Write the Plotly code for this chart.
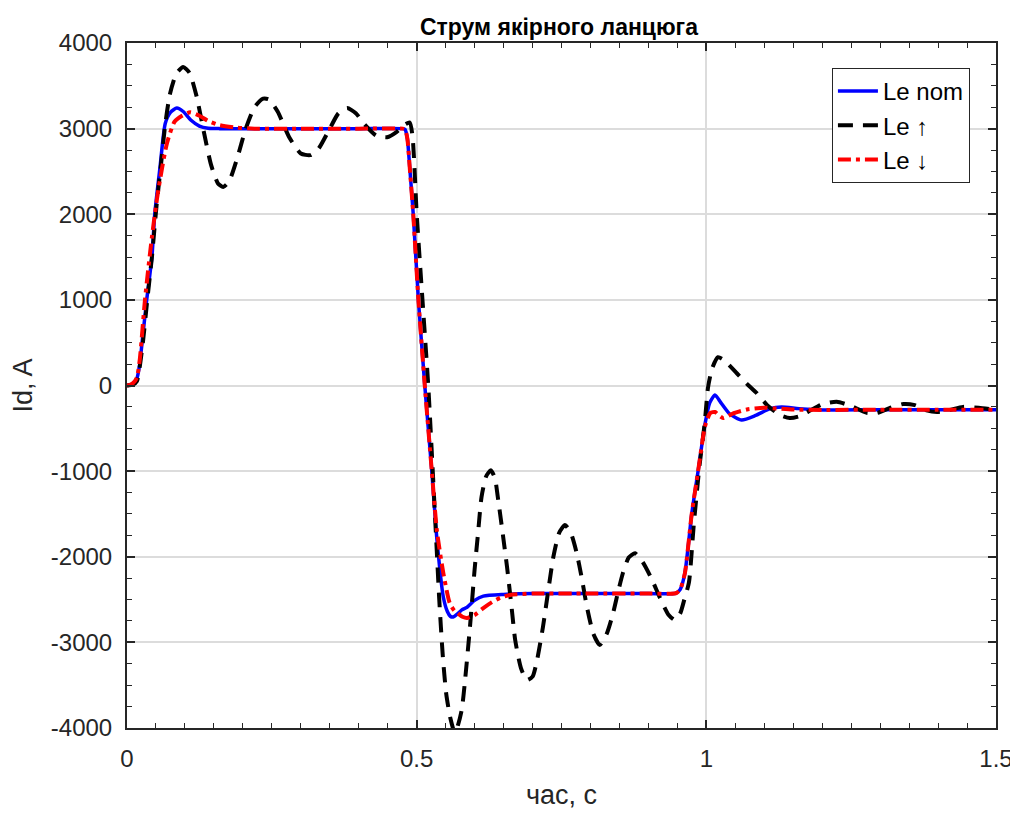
import plotly.graph_objects as go

# ---- data ----
t_nom = [0, 0.005, 0.01, 0.017, 0.022, 0.026, 0.034, 0.043, 0.048, 0.057, 0.066, 0.075, 0.086,
         0.097, 0.11, 0.125, 0.14, 0.16, 0.2, 0.3, 0.4, 0.476, 0.480, 0.484, 0.488, 0.494, 0.503,
         0.514, 0.526, 0.535, 0.546, 0.553, 0.558, 0.563, 0.570, 0.578, 0.587, 0.600, 0.615, 0.65,
         0.7, 0.8, 0.9, 0.945, 0.949, 0.955, 0.963, 0.975, 0.986, 0.998, 1.006, 1.015, 1.025,
         1.04, 1.061, 1.085, 1.11, 1.13, 1.16, 1.2, 1.3, 1.4, 1.5]
id_nom = [0, 5, 20, 80, 250, 500, 1000, 1500, 2010, 2550, 3060, 3190, 3240,
          3200, 3100, 3030, 3005, 3000, 3000, 3000, 3000, 3000, 2990, 2880, 2550, 2010, 1000,
          0, -990, -1800, -2470, -2640, -2695, -2704, -2670, -2620, -2590, -2510, -2460, -2440,
          -2430, -2430, -2430, -2430, -2420, -2380, -2190, -1490, -990, -440, -200, -111, -200,
          -330, -403, -350, -270, -250, -270, -285, -283, -283, -283]

t_up = [0, 0.01, 0.017, 0.026, 0.035, 0.043, 0.051, 0.059, 0.066, 0.074, 0.085, 0.097, 0.108,
        0.12, 0.133, 0.145, 0.157, 0.166, 0.176, 0.19, 0.205, 0.22, 0.235, 0.245, 0.26, 0.28,
        0.3, 0.316, 0.33, 0.35, 0.365, 0.38, 0.395, 0.41, 0.43, 0.449, 0.465, 0.478, 0.488,
        0.493, 0.500, 0.510, 0.520, 0.527, 0.533, 0.539, 0.545, 0.551, 0.558, 0.566, 0.572,
        0.578, 0.583, 0.592, 0.600, 0.606, 0.612, 0.620, 0.628, 0.635, 0.640, 0.648, 0.656,
        0.664, 0.670, 0.680, 0.690, 0.700, 0.708, 0.718, 0.727, 0.736, 0.746, 0.756, 0.766,
        0.776, 0.785, 0.794, 0.805, 0.816, 0.828, 0.839, 0.848, 0.856, 0.866, 0.877, 0.89,
        0.905, 0.92, 0.935, 0.946, 0.955, 0.962, 0.970, 0.978, 0.988, 0.997, 1.003, 1.010,
        1.020, 1.030, 1.053, 1.070, 1.087, 1.105, 1.127, 1.144, 1.160, 1.18, 1.2, 1.225, 1.25,
        1.277, 1.295, 1.318, 1.34, 1.36, 1.38, 1.398, 1.42, 1.443, 1.47, 1.5]
id_up = [0, 10, 50, 420, 1000, 1500, 2100, 2600, 3050, 3400, 3640, 3720, 3650,
         3380, 2950, 2580, 2360, 2318, 2380, 2650, 3000, 3250, 3350, 3340, 3200, 2900,
         2710, 2690, 2760, 3000, 3180, 3240, 3180, 3050, 2920, 2900, 2960, 3040, 3070,
         2900, 2010, 1000, 0, -900, -1700, -2500, -3150, -3600, -3880, -4060, -3950,
         -3780, -3480, -2820, -2150, -1720, -1300, -1060, -990, -1080, -1300, -1700, -2120,
         -2600, -2970, -3300, -3440, -3400, -3200, -2820, -2400, -2000, -1720, -1630, -1720,
         -1950, -2250, -2590, -2900, -3030, -2900, -2660, -2400, -2190, -2010, -1960, -2060,
         -2250, -2480, -2680, -2740, -2660, -2500, -2300, -1650, -950, -450, -20, 200,
         330, 300, 140, 20, -88, -230, -344, -380, -360, -290, -220, -190, -240,
         -320, -320, -260, -216, -230, -290, -310, -285, -250, -260, -285]

t_down = [0, 0.005, 0.01, 0.017, 0.022, 0.031, 0.043, 0.054, 0.069, 0.082, 0.095, 0.109, 0.125,
          0.14, 0.16, 0.19, 0.22, 0.3, 0.4, 0.476, 0.480, 0.484, 0.488, 0.494, 0.503, 0.514,
          0.526, 0.535, 0.546, 0.557, 0.565, 0.571, 0.579, 0.587, 0.600, 0.615, 0.630, 0.644,
          0.661, 0.7, 0.8, 0.9, 0.945, 0.949, 0.955, 0.963, 0.975, 0.986, 0.998, 1.007, 1.015,
          1.022, 1.029, 1.037, 1.045, 1.07, 1.1, 1.115, 1.15, 1.2, 1.3, 1.4, 1.5]
id_down = [0, 8, 25, 90, 300, 1000, 1735, 2280, 2830, 3080, 3150, 3190, 3150,
           3090, 3040, 3010, 3000, 3000, 3000, 3000, 2990, 2880, 2550, 2010, 1000, 0,
           -990, -1700, -2190, -2540, -2630, -2660, -2700, -2715, -2680, -2600, -2530, -2480,
           -2447, -2430, -2430, -2430, -2430, -2420, -2380, -2190, -1490, -990, -470, -320, -310,
           -350, -380, -360, -330, -280, -260, -265, -280, -285, -283, -283, -283]

names = ["Le nom", "Le \u2191", "Le \u2193"]

x_ticks = [0, 0.5, 1, 1.5]
x_ticktext = ["0", "0.5", "1", "1.5"]
y_ticks = [-4000, -3000, -2000, -1000, 0, 1000, 2000, 3000, 4000]
y_ticktext = [str(v) for v in y_ticks]

FONT = "Liberation Sans, Arial, sans-serif"

fig = go.Figure()
fig.add_trace(go.Scatter(x=t_nom, y=id_nom, name=names[0], mode="lines",
                         line=dict(color="#0000ff", width=3.5, shape="spline", smoothing=0.6)))
fig.add_trace(go.Scatter(x=t_up, y=id_up, name=names[1], mode="lines",
                         line=dict(color="#000000", width=4, dash="15px,10px", shape="spline", smoothing=0.6)))
fig.add_trace(go.Scatter(x=t_down, y=id_down, name=names[2], mode="lines",
                         line=dict(color="#ff0000", width=4, dash="13px,5px,4px,5px", shape="spline", smoothing=0.6)))

axis_common = dict(
    showline=True, linecolor="#262626", linewidth=2, mirror="allticks",
    ticks="inside", ticklen=8, tickwidth=1.5, tickcolor="#262626",
    showgrid=True, gridcolor="#dcdcdc", gridwidth=1.5, zeroline=False,
    tickfont=dict(family=FONT, size=24, color="#262626"),
)

fig.update_xaxes(range=[0, 1.5], tickvals=x_ticks, ticktext=x_ticktext,
                 minor=dict(ticks="inside", dtick=0.05, tick0=0, ticklen=5, tickwidth=1.2,
                            tickcolor="#262626", showgrid=False),
                 title=dict(text="час, с", font=dict(family=FONT, size=27, color="#262626"), standoff=14),
                 ticklabelstandoff=8, **axis_common)
fig.update_yaxes(range=[-4000, 4000], tickvals=y_ticks, ticktext=y_ticktext,
                 minor=dict(ticks="inside", dtick=250, tick0=0, ticklen=5, tickwidth=1.2,
                            tickcolor="#262626", showgrid=False),
                 title=dict(text="Id, A", font=dict(family=FONT, size=27, color="#262626"), standoff=14),
                 ticklabelstandoff=8, **axis_common)

fig.update_layout(
    width=1018, height=814,
    margin=dict(l=119, r=30, t=35, b=94, autoexpand=False),
    paper_bgcolor="white", plot_bgcolor="white",
    title=dict(text="<b>Струм якірного ланцюга</b>", x=551 / 1018, xanchor="center",
               y=1 - 19 / 814, yanchor="middle",
               font=dict(family=FONT, size=23, color="#000000")),
    legend=dict(x=0.970, y=0.9635, xanchor="right", yanchor="top",
                bordercolor="#262626", borderwidth=1, bgcolor="white",
                font=dict(family=FONT, size=24, color="#000000"),
                itemwidth=40, tracegroupgap=0),
    showlegend=True,
)

fig.write_html("out.html")
